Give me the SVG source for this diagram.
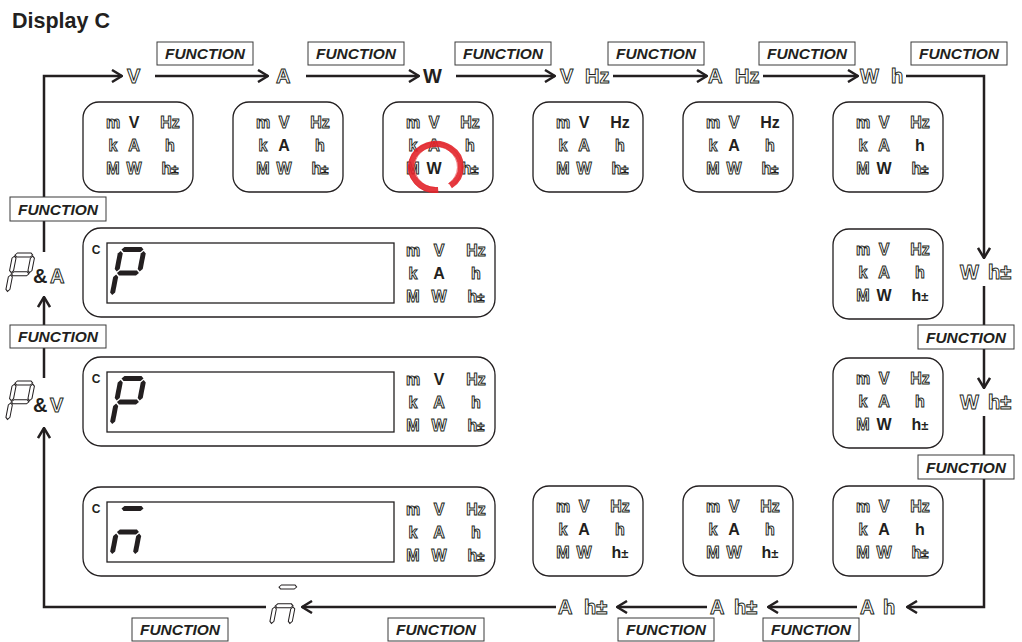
<svg xmlns="http://www.w3.org/2000/svg" xmlns:xlink="http://www.w3.org/1999/xlink" width="1022" height="642" viewBox="0 0 1022 642">
<style>
text{font-family:"Liberation Sans",Arial,sans-serif;font-weight:bold}
.all{opacity:0.995}
.o{fill:#fff;stroke:#231f20;stroke-width:0.95}
.f{fill:#231f20}
.ind text{font-size:16px;text-anchor:middle}
.big{font-size:20px}
.box{fill:#fff;stroke:#231f20;stroke-width:1.3}
.fn rect{fill:#fff;stroke:#3a3a3a;stroke-width:1}
.fn text{font-style:italic;font-size:15.5px;text-anchor:middle;fill:#231f20}
.ln{fill:none;stroke:#231f20;stroke-width:2.5}
.seg{fill:#231f20}
.sego{fill:#fff;stroke:#231f20;stroke-width:1.3}
.pm{font-size:13px}
.red{fill:none;stroke:#e2232a}
</style>
<defs>
<marker id="ah" viewBox="0 0 12 14" refX="11" refY="7" markerWidth="12" markerHeight="14" orient="auto" markerUnits="userSpaceOnUse">
<path d="M1,1 L11,7 L1,13" fill="none" stroke="#231f20" stroke-width="2.5"/>
</marker>
<polygon id="sa" points="3,2.5 5.5,0 22.5,0 25,2.5 22.5,5 5.5,5"/>
<polygon id="sg" points="3,26 5.5,23.5 22.5,23.5 25,26 22.5,28.5 5.5,28.5"/>
<polygon id="sf" points="2.5,4 5,6.5 5,22 2.5,24.5 0,22 0,6.5"/>
<polygon id="sb" points="25.5,4 28,6.5 28,22 25.5,24.5 23,22 23,6.5"/>
<polygon id="se" points="2.5,27.5 5,30 5,45.5 2.5,48 0,45.5 0,30"/>
<polygon id="sc" points="25.5,27.5 28,30 28,45.5 25.5,48 23,45.5 23,30"/>
<g id="glP"><use href="#sa" xlink:href="#sa"/><use href="#sb" xlink:href="#sb"/><use href="#sf" xlink:href="#sf"/><use href="#sg" xlink:href="#sg"/><use href="#se" xlink:href="#se"/></g>
<g id="glN"><use href="#sa" xlink:href="#sa"/><use href="#sg" xlink:href="#sg"/><use href="#se" xlink:href="#se"/><use href="#sc" xlink:href="#sc"/></g>
</defs>
<g class="all">
<text id="title" x="12" y="28" font-size="21.5" fill="#231f20">Display C</text>

<!-- connectors -->
<g id="connectors">
<path class="ln" d="M44,197 V76 H122" marker-end="url(#ah)"/>
<path class="ln" d="M155,76 H268" marker-end="url(#ah)"/>
<path class="ln" d="M306,76 H419" marker-end="url(#ah)"/>
<path class="ln" d="M456,76 H555" marker-end="url(#ah)"/>
<path class="ln" d="M613,76 H707" marker-end="url(#ah)"/>
<path class="ln" d="M763,76 H858" marker-end="url(#ah)"/>
<path class="ln" d="M906,76 H984 V258" marker-end="url(#ah)"/>
<path class="ln" d="M984,286 V325"/>
<path class="ln" d="M984,349 V388" marker-end="url(#ah)"/>
<path class="ln" d="M984,416 V455"/>
<path class="ln" d="M984,479 V607 H907" marker-end="url(#ah)"/>
<path class="ln" d="M857,607 H768" marker-end="url(#ah)"/>
<path class="ln" d="M707,607 H617" marker-end="url(#ah)"/>
<path class="ln" d="M556,607 H302" marker-end="url(#ah)"/>
<path class="ln" d="M266,607 H44 V428" marker-end="url(#ah)"/>
<path class="ln" d="M44,378 V348"/>
<path class="ln" d="M44,325 V297" marker-end="url(#ah)"/>
<path class="ln" d="M44,252 V221"/>
</g>

<!-- FUNCTION labels -->
<g id="fn-top1" class="fn"><rect x="157" y="42" width="96" height="23"/><text x="205" y="59">FUNCTION</text></g>
<g id="fn-top2" class="fn"><rect x="308" y="42" width="96" height="23"/><text x="356" y="59">FUNCTION</text></g>
<g id="fn-top3" class="fn"><rect x="455" y="42" width="96" height="23"/><text x="503" y="59">FUNCTION</text></g>
<g id="fn-top4" class="fn"><rect x="608" y="42" width="96" height="23"/><text x="656" y="59">FUNCTION</text></g>
<g id="fn-top5" class="fn"><rect x="759" y="42" width="96" height="23"/><text x="807" y="59">FUNCTION</text></g>
<g id="fn-top6" class="fn"><rect x="911" y="42" width="96" height="23"/><text x="959" y="59">FUNCTION</text></g>
<g id="fn-right1" class="fn"><rect x="918" y="325" width="96" height="24"/><text x="966" y="343">FUNCTION</text></g>
<g id="fn-right2" class="fn"><rect x="918" y="455" width="96" height="24"/><text x="966" y="473">FUNCTION</text></g>
<g id="fn-bot1" class="fn"><rect x="132" y="618" width="96" height="23"/><text x="180" y="635">FUNCTION</text></g>
<g id="fn-bot2" class="fn"><rect x="388" y="618" width="96" height="23"/><text x="436" y="635">FUNCTION</text></g>
<g id="fn-bot3" class="fn"><rect x="618" y="618" width="96" height="23"/><text x="666" y="635">FUNCTION</text></g>
<g id="fn-bot4" class="fn"><rect x="763" y="618" width="96" height="23"/><text x="811" y="635">FUNCTION</text></g>
<g id="fn-left1" class="fn"><rect x="10" y="197" width="96" height="24"/><text x="58" y="215">FUNCTION</text></g>
<g id="fn-left2" class="fn"><rect x="10" y="325" width="96" height="23"/><text x="58" y="342">FUNCTION</text></g>

<!-- flow labels -->
<g id="lbl-V"><text class="o big" x="127" y="83">V</text></g>
<g id="lbl-A"><text class="o big" x="276" y="83">A</text></g>
<g id="lbl-W"><text class="f big" x="423" y="83">W</text></g>
<g id="lbl-VHz"><text class="o big" x="560" y="83">V</text><text class="o big" x="585" y="83">Hz</text></g>
<g id="lbl-AHz"><text class="o big" x="708" y="83">A</text><text class="o big" x="735" y="83">Hz</text></g>
<g id="lbl-Wh"><text class="o big" x="860" y="83">W</text><text class="o big" x="891" y="83">h</text></g>
<g id="lbl-Whpm1"><text class="o big" x="960" y="279">W</text><text class="o big" x="988" y="279">h±</text></g>
<g id="lbl-Whpm2"><text class="o big" x="960" y="409">W</text><text class="o big" x="988" y="409">h±</text></g>
<g id="lbl-Ah"><text class="o big" x="860" y="614">A</text><text class="o big" x="883" y="614">h</text></g>
<g id="lbl-Ahpm1"><text class="o big" x="710" y="614">A</text><text class="o big" x="734" y="614">h±</text></g>
<g id="lbl-Ahpm2"><text class="o big" x="558" y="614">A</text><text class="o big" x="584" y="614">h±</text></g>
<g id="lbl-n"><g class="sego" transform="translate(277,585) scale(0.8) skewX(-11)"><use href="#glN" xlink:href="#glN"/></g></g>
<g id="lbl-PV"><g class="sego" transform="translate(13,381) scale(0.8) skewX(-11)"><use href="#glP" xlink:href="#glP"/></g><text class="f big" x="33" y="412">&amp;</text><text class="o big" x="50" y="412">V</text></g>
<g id="lbl-PA"><g class="sego" transform="translate(13,253) scale(0.8) skewX(-11)"><use href="#glP" xlink:href="#glP"/></g><text class="f big" x="33" y="283">&amp;</text><text class="o big" x="50" y="283">A</text></g>

<!-- indicator boxes: top row -->
<g id="ind1" class="ind" transform="translate(83,102)"><rect class="box" width="110" height="90" rx="16"/>
<text class="o" x="30" y="26">m</text><text class="f" x="51" y="26">V</text><text class="o" x="87" y="26">Hz</text>
<text class="o" x="30" y="49">k</text><text class="o" x="51" y="49">A</text><text class="o" x="87" y="49">h</text>
<text class="o" x="30" y="72">M</text><text class="o" x="51" y="72">W</text><text class="o" x="87" y="72">h<tspan class="pm">±</tspan></text></g>
<g id="ind2" class="ind" transform="translate(233,102)"><rect class="box" width="110" height="90" rx="16"/>
<text class="o" x="30" y="26">m</text><text class="o" x="51" y="26">V</text><text class="o" x="87" y="26">Hz</text>
<text class="o" x="30" y="49">k</text><text class="f" x="51" y="49">A</text><text class="o" x="87" y="49">h</text>
<text class="o" x="30" y="72">M</text><text class="o" x="51" y="72">W</text><text class="o" x="87" y="72">h<tspan class="pm">±</tspan></text></g>
<g id="ind3" class="ind" transform="translate(383,102)"><rect class="box" width="110" height="90" rx="16"/>
<text class="o" x="30" y="26">m</text><text class="o" x="51" y="26">V</text><text class="o" x="87" y="26">Hz</text>
<text class="o" x="30" y="49">k</text><text class="o" x="51" y="49">A</text><text class="o" x="87" y="49">h</text>
<text class="o" x="30" y="72">M</text><text class="f" x="51" y="72">W</text><text class="o" x="87" y="72">h<tspan class="pm">±</tspan></text>
<path class="red" d="M55.2,87.9 A25,23 0 1,1 67.3,83.8" stroke-width="6" stroke-opacity="0.9"/>
<path class="red" d="M53,90.5 A26.5,25 0 1,1 72,82" stroke-width="1" stroke-opacity="0.55"/>
<path class="red" d="M52,85.5 A21.5,20.5 0 1,1 65,82" stroke-width="1" stroke-opacity="0.55"/>
</g>
<g id="ind4" class="ind" transform="translate(533,102)"><rect class="box" width="110" height="90" rx="16"/>
<text class="o" x="30" y="26">m</text><text class="f" x="51" y="26">V</text><text class="f" x="87" y="26">Hz</text>
<text class="o" x="30" y="49">k</text><text class="o" x="51" y="49">A</text><text class="o" x="87" y="49">h</text>
<text class="o" x="30" y="72">M</text><text class="o" x="51" y="72">W</text><text class="o" x="87" y="72">h<tspan class="pm">±</tspan></text></g>
<g id="ind5" class="ind" transform="translate(683,102)"><rect class="box" width="110" height="90" rx="16"/>
<text class="o" x="30" y="26">m</text><text class="o" x="51" y="26">V</text><text class="f" x="87" y="26">Hz</text>
<text class="o" x="30" y="49">k</text><text class="f" x="51" y="49">A</text><text class="o" x="87" y="49">h</text>
<text class="o" x="30" y="72">M</text><text class="o" x="51" y="72">W</text><text class="o" x="87" y="72">h<tspan class="pm">±</tspan></text></g>
<g id="ind6" class="ind" transform="translate(833,102)"><rect class="box" width="110" height="90" rx="16"/>
<text class="o" x="30" y="26">m</text><text class="o" x="51" y="26">V</text><text class="o" x="87" y="26">Hz</text>
<text class="o" x="30" y="49">k</text><text class="o" x="51" y="49">A</text><text class="f" x="87" y="49">h</text>
<text class="o" x="30" y="72">M</text><text class="f" x="51" y="72">W</text><text class="o" x="87" y="72">h<tspan class="pm">±</tspan></text></g>

<!-- right column -->
<g id="ind7" class="ind" transform="translate(833,229)"><rect class="box" width="110" height="90" rx="16"/>
<text class="o" x="30" y="26">m</text><text class="o" x="51" y="26">V</text><text class="o" x="87" y="26">Hz</text>
<text class="o" x="30" y="49">k</text><text class="o" x="51" y="49">A</text><text class="o" x="87" y="49">h</text>
<text class="o" x="30" y="72">M</text><text class="f" x="51" y="72">W</text><text class="f" x="87" y="72">h<tspan class="pm">±</tspan></text></g>
<g id="ind8" class="ind" transform="translate(833,358)"><rect class="box" width="110" height="90" rx="16"/>
<text class="o" x="30" y="26">m</text><text class="o" x="51" y="26">V</text><text class="o" x="87" y="26">Hz</text>
<text class="o" x="30" y="49">k</text><text class="o" x="51" y="49">A</text><text class="o" x="87" y="49">h</text>
<text class="o" x="30" y="72">M</text><text class="f" x="51" y="72">W</text><text class="f" x="87" y="72">h<tspan class="pm">±</tspan></text></g>

<!-- bottom row -->
<g id="ind9" class="ind" transform="translate(833,486)"><rect class="box" width="110" height="90" rx="16"/>
<text class="o" x="30" y="26">m</text><text class="o" x="51" y="26">V</text><text class="o" x="87" y="26">Hz</text>
<text class="o" x="30" y="49">k</text><text class="f" x="51" y="49">A</text><text class="f" x="87" y="49">h</text>
<text class="o" x="30" y="72">M</text><text class="o" x="51" y="72">W</text><text class="o" x="87" y="72">h<tspan class="pm">±</tspan></text></g>
<g id="ind10" class="ind" transform="translate(683,486)"><rect class="box" width="110" height="90" rx="16"/>
<text class="o" x="30" y="26">m</text><text class="o" x="51" y="26">V</text><text class="o" x="87" y="26">Hz</text>
<text class="o" x="30" y="49">k</text><text class="f" x="51" y="49">A</text><text class="o" x="87" y="49">h</text>
<text class="o" x="30" y="72">M</text><text class="o" x="51" y="72">W</text><text class="f" x="87" y="72">h<tspan class="pm">±</tspan></text></g>
<g id="ind11" class="ind" transform="translate(533,486)"><rect class="box" width="110" height="90" rx="16"/>
<text class="o" x="30" y="26">m</text><text class="o" x="51" y="26">V</text><text class="o" x="87" y="26">Hz</text>
<text class="o" x="30" y="49">k</text><text class="f" x="51" y="49">A</text><text class="o" x="87" y="49">h</text>
<text class="o" x="30" y="72">M</text><text class="o" x="51" y="72">W</text><text class="f" x="87" y="72">h<tspan class="pm">±</tspan></text></g>

<!-- big displays -->
<g id="disp1" class="ind" transform="translate(83,228)">
<rect class="box" width="412" height="89" rx="18"/>
<rect x="24" y="15" width="287" height="60" fill="#fff" stroke="#231f20" stroke-width="1.3"/>
<text class="f" x="13" y="26" style="font-size:12px">C</text>
<g class="seg" transform="translate(36,19) skewX(-11)"><use href="#glP" xlink:href="#glP"/></g>
<text class="o" x="330" y="28">m</text><text class="o" x="356" y="28">V</text><text class="o" x="393" y="28">Hz</text>
<text class="o" x="330" y="51">k</text><text class="f" x="356" y="51">A</text><text class="o" x="393" y="51">h</text>
<text class="o" x="330" y="74">M</text><text class="o" x="356" y="74">W</text><text class="o" x="393" y="74">h<tspan class="pm">±</tspan></text>
</g>
<g id="disp2" class="ind" transform="translate(83,357)">
<rect class="box" width="412" height="89" rx="18"/>
<rect x="24" y="15" width="287" height="60" fill="#fff" stroke="#231f20" stroke-width="1.3"/>
<text class="f" x="13" y="26" style="font-size:12px">C</text>
<g class="seg" transform="translate(36,19) skewX(-11)"><use href="#glP" xlink:href="#glP"/></g>
<text class="o" x="330" y="28">m</text><text class="f" x="356" y="28">V</text><text class="o" x="393" y="28">Hz</text>
<text class="o" x="330" y="51">k</text><text class="o" x="356" y="51">A</text><text class="o" x="393" y="51">h</text>
<text class="o" x="330" y="74">M</text><text class="o" x="356" y="74">W</text><text class="o" x="393" y="74">h<tspan class="pm">±</tspan></text>
</g>
<g id="disp3" class="ind" transform="translate(83,487)">
<rect class="box" width="412" height="89" rx="18"/>
<rect x="24" y="15" width="287" height="60" fill="#fff" stroke="#231f20" stroke-width="1.3"/>
<text class="f" x="13" y="26" style="font-size:12px">C</text>
<g class="seg" transform="translate(36,19) skewX(-11)"><use href="#glN" xlink:href="#glN"/></g>
<text class="o" x="330" y="28">m</text><text class="o" x="356" y="28">V</text><text class="o" x="393" y="28">Hz</text>
<text class="o" x="330" y="51">k</text><text class="o" x="356" y="51">A</text><text class="o" x="393" y="51">h</text>
<text class="o" x="330" y="74">M</text><text class="o" x="356" y="74">W</text><text class="o" x="393" y="74">h<tspan class="pm">±</tspan></text>
</g>
</g>
</svg>
